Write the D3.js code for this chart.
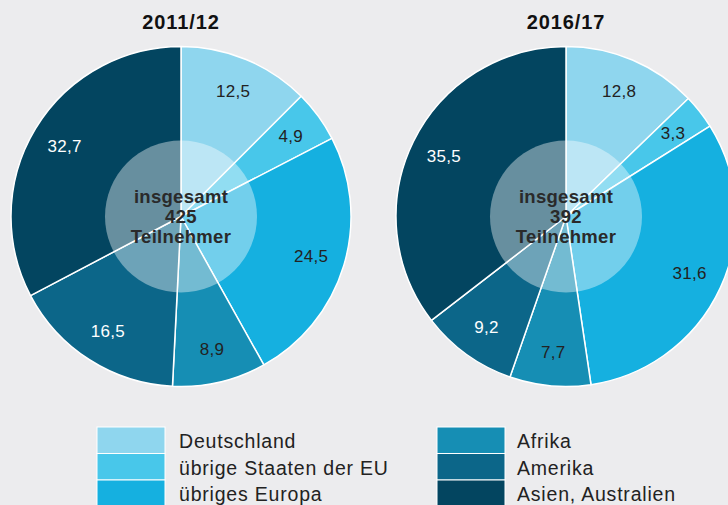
<!DOCTYPE html>
<html><head><meta charset="utf-8">
<script src="https://cdn.jsdelivr.net/npm/d3@7"></script>
<style>
html,body{margin:0;padding:0;background:#ececee;}
svg{display:block;font-family:"Liberation Sans",Arial,Helvetica,sans-serif;}
</style></head>
<body>
<svg id="chart" width="728" height="505"></svg>
<script>
const categories = ["Deutschland","übrige Staaten der EU","übriges Europa","Afrika","Amerika","Asien, Australien"];
const colors = ["#8fd6ee","#48c7ea","#15b0e0","#168eb4","#0c6689","#034560"];
const labelColors = ["#222","#222","#222","#222","#fff","#fff"];
const years = ["2011/12","2016/17"];
const totals = [425, 392];
const values2011 = [12.5, 4.9, 24.5, 8.9, 16.5, 32.7];
const values2016 = [12.8, 3.3, 31.6, 7.7, 9.2, 35.5];
const seriesValues = [values2011, values2016];

const svg = d3.select("#chart");
svg.append("rect").attr("width",728).attr("height",505).attr("fill","#ececee");

const R = 170, rInner = 76, rLabel = 136;
const cx = [181, 566], cy = 216.5;
const pie = d3.pie().sort(null).value(d => d);
const arc = d3.arc().innerRadius(0).outerRadius(R);
const fmt = v => String(v.toFixed(1)).replace(".", ",");

seriesValues.forEach((vals, i) => {
  const g = svg.append("g").attr("transform", `translate(${cx[i]},${cy})`);
  const arcs = pie(vals);
  g.selectAll("path.slice").data(arcs).join("path")
    .attr("class","slice")
    .attr("d", arc)
    .attr("fill", (d, j) => colors[j])
    .attr("stroke", "#fff")
    .attr("stroke-width", 1.5)
    .attr("stroke-linejoin","round");
  g.append("circle").attr("r", rInner).attr("fill", "#fff").attr("fill-opacity", 0.4);
  g.selectAll("text.val").data(arcs).join("text")
    .attr("class","val")
    .attr("x", d => Math.sin((d.startAngle + d.endAngle) / 2) * rLabel)
    .attr("y", d => -Math.cos((d.startAngle + d.endAngle) / 2) * rLabel)
    .attr("dy", "0.35em")
    .attr("text-anchor", "middle")
    .attr("font-size", 17)
    .attr("letter-spacing", 0.3)
    .attr("fill", (d, j) => labelColors[j])
    .text(d => fmt(d.data));
  const center = ["insgesamt", String(totals[i]), "Teilnehmer"];
  g.selectAll("text.ctr").data(center).join("text")
    .attr("class","ctr")
    .attr("x", 0)
    .attr("y", (d, k) => -13.5 + k * 20)
    .attr("text-anchor", "middle")
    .attr("font-size", 18.5)
    .attr("font-weight", "bold")
    .attr("letter-spacing", 0.3)
    .attr("fill", "#2a2a2a")
    .text(d => d);
  svg.append("text")
    .attr("x", cx[i]).attr("y", 29)
    .attr("text-anchor", "middle")
    .attr("font-size", 20)
    .attr("font-weight", "bold")
    .attr("letter-spacing", 0.9)
    .attr("fill", "#111")
    .text(years[i]);
});

// legend
const legX = [97, 437], textX = [179, 517];
const rowY = [427, 453.5, 480], rowH = 26.5;
categories.forEach((c, j) => {
  const col = Math.floor(j / 3), row = j % 3;
  svg.append("rect")
    .attr("x", legX[col]).attr("y", rowY[row])
    .attr("width", 68).attr("height", rowH)
    .attr("fill", colors[j])
    .attr("stroke", "#fff").attr("stroke-width", 1);
  svg.append("text")
    .attr("x", textX[col]).attr("y", rowY[row] + 21)
    .attr("font-size", 19.5)
    .attr("letter-spacing", 0.8)
    .attr("fill", "#222")
    .text(c);
});
</script>
</body></html>
